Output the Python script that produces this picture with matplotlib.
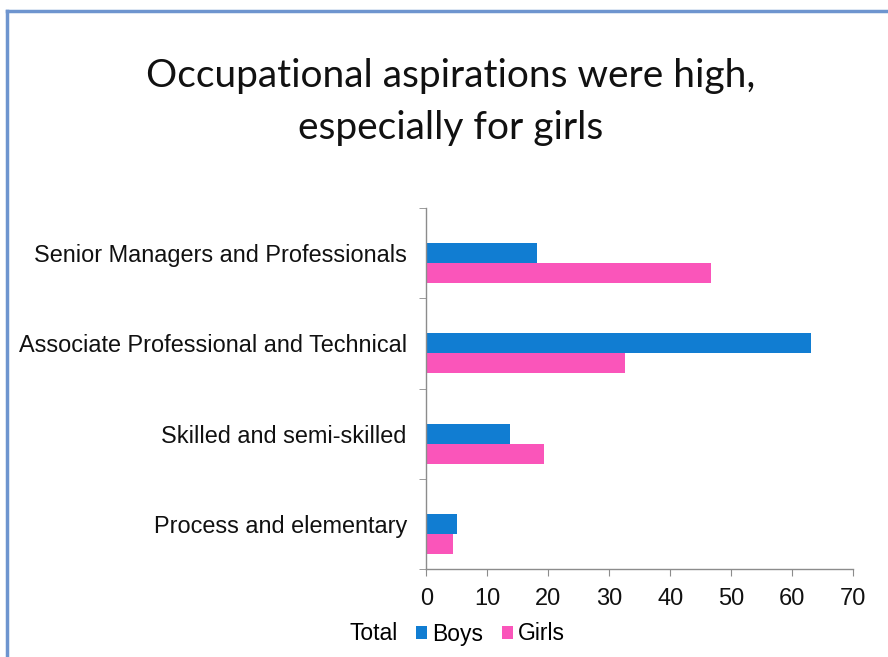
import matplotlib
matplotlib.use("Agg")
import matplotlib.pyplot as plt
from matplotlib.patches import Patch
from matplotlib.lines import Line2D
import numpy as np

categories = ["Senior Managers and Professionals",
              "Associate Professional and Technical",
              "Skilled and semi-skilled",
              "Process and elementary"]
boys = [18.2, 63.1, 13.7, 5.1]
girls = [46.6, 32.6, 19.3, 4.3]
x_ticks = [0, 10, 20, 30, 40, 50, 60, 70]
title = "Occupational aspirations were high,\nespecially for girls"

blue = "#117DD2"
pink = "#FA55BA"
frame = "#6E95CF"
grey = "#8C8C8C"

fig = plt.figure(figsize=(8.88, 6.57), dpi=100)
fig.patch.set_facecolor("white")

# slide frame
fig.add_artist(Line2D([7/888, 7/888], [0, 1 - 11/657], transform=fig.transFigure,
                      color=frame, lw=2.5))
fig.add_artist(Line2D([7/888, 1], [1 - 11/657, 1 - 11/657], transform=fig.transFigure,
                      color=frame, lw=2.5))

fig.text(451/888, 1 - 102/657, title, ha="center", va="center",
         fontsize=28, family="Lato", linespacing=1.55, color="#111111")

ax = fig.add_axes([426.3/888, 1 - 569/657, (853.3 - 426.3)/888, (569 - 208)/657])
pos = np.arange(len(categories))
h = 0.221
ax.barh(pos, boys, height=h, color=blue, label="Boys")
ax.barh(pos + h, girls, height=h, color=pink, label="Girls")

ax.set_ylim(len(categories) - 0.5, -0.5)
ax.set_xlim(0, 70)
ax.set_xticks(x_ticks)
ax.set_xticklabels([str(v) for v in x_ticks])
ax.set_yticks(pos)
ax.set_yticklabels(categories)
ax.set_yticks(np.arange(len(categories) + 1) - 0.5, minor=True)

for s in ["top", "right"]:
    ax.spines[s].set_visible(False)
for s in ["left", "bottom"]:
    ax.spines[s].set_color(grey)
    ax.spines[s].set_linewidth(1.0)

ax.tick_params(axis="y", which="major", length=0, pad=14,
               labelsize=16.9, labelcolor="#111111")
ax.tick_params(axis="y", which="minor", length=5, color=grey, direction="out")
ax.tick_params(axis="x", length=5, color=grey, direction="out", pad=9,
               labelsize=17, labelcolor="#111111")
for lbl in ax.get_yticklabels() + ax.get_xticklabels():
    lbl.set_family("Liberation Sans")

handles = [Patch(facecolor="none", edgecolor="none", label="Total"),
           Patch(facecolor=blue, label="Boys"),
           Patch(facecolor=pink, label="Girls")]
leg = fig.legend(handles=handles, loc="center", bbox_to_anchor=(449/888, 1 - 634/657),
                 ncol=3, frameon=False, handlelength=0.5, handleheight=0.5,
                 handletextpad=0.22, columnspacing=0.8,
                 prop={"family": "Liberation Sans", "size": 16.5})

fig.savefig("out.png", dpi=100, facecolor="white")
